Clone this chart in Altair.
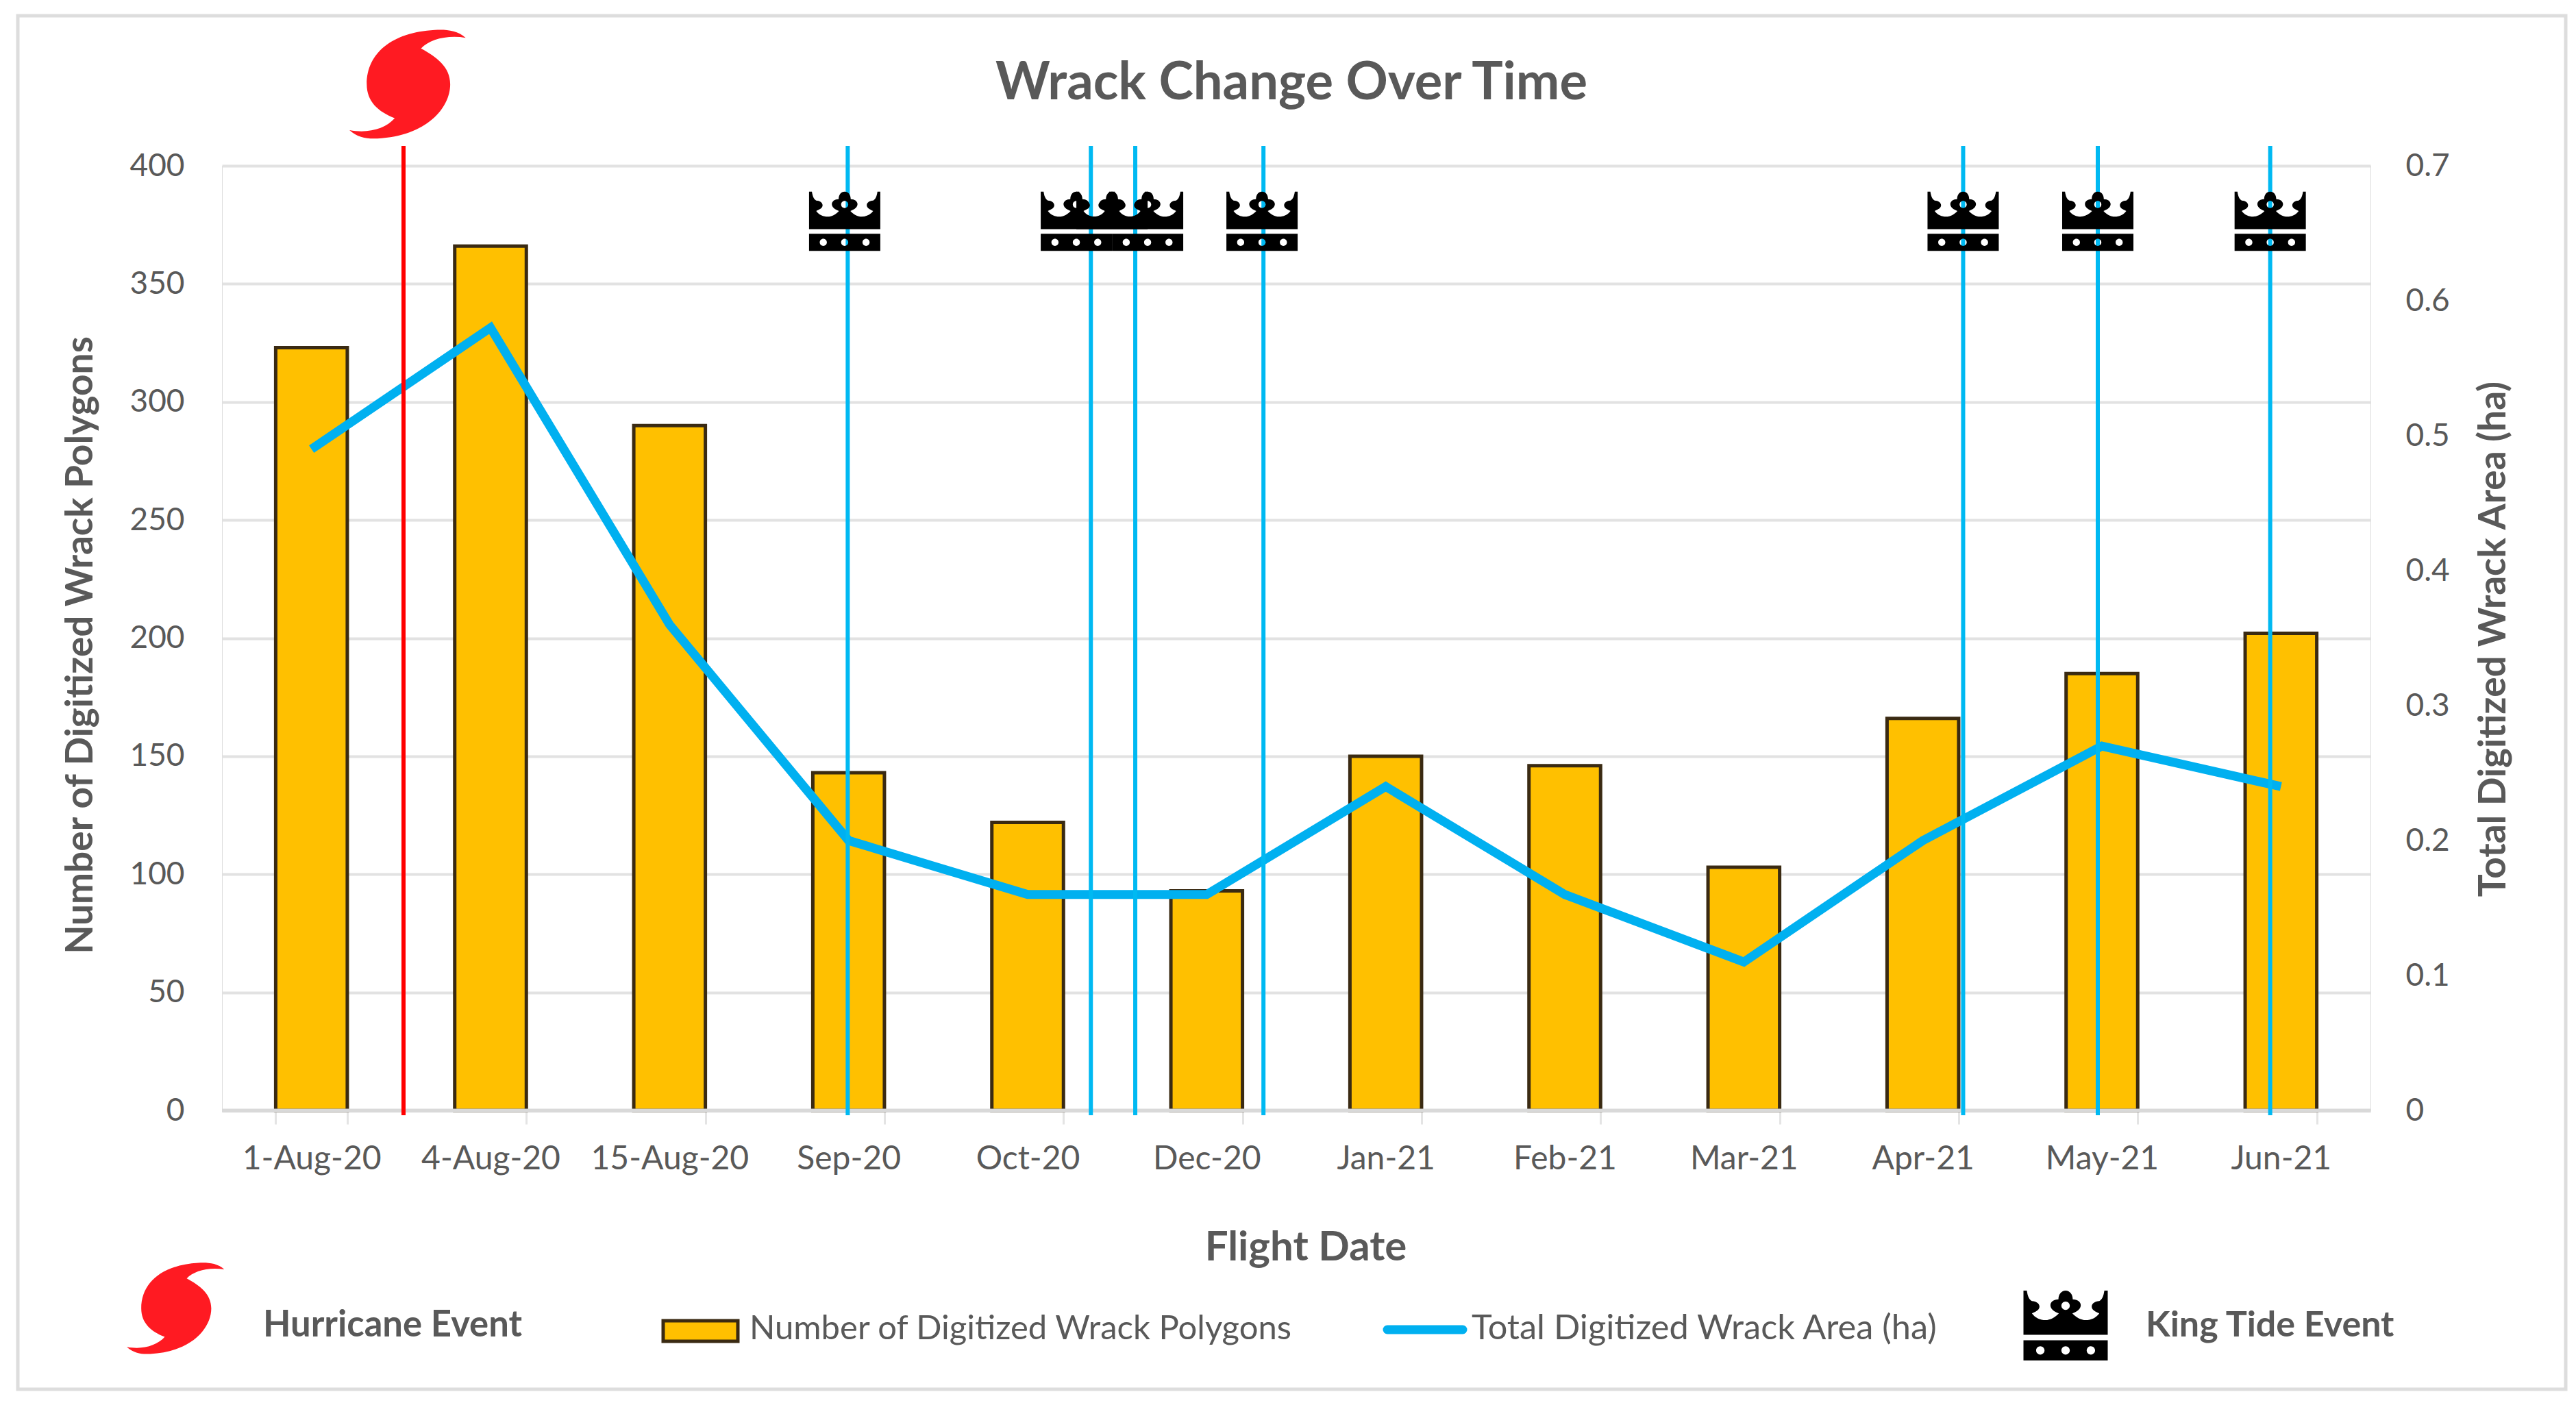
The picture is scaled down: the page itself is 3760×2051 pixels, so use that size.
import altair as alt
import pandas as pd

categories = ["1-Aug-20", "4-Aug-20", "15-Aug-20", "Sep-20", "Oct-20", "Dec-20",
              "Jan-21", "Feb-21", "Mar-21", "Apr-21", "May-21", "Jun-21"]
polygons = [323, 366, 290, 143, 122, 93, 150, 146, 103, 166, 185, 202]
area_ha = [0.49, 0.58, 0.36, 0.20, 0.16, 0.16, 0.24, 0.16, 0.11, 0.20, 0.27, 0.24]
# event positions, in units of category slots from the left of the axis
king_tide_positions = [3.495, 4.853, 5.101, 5.817, 9.725, 10.477, 11.44]
crown_positions = [3.478, 4.772, 5.170, 5.809, 9.725, 10.477, 11.44]
crown_joined_positions = [4.971]
hurricane_positions = [1.014]
hurricane_icon_positions = [1.045]

LEFT, TOP, W, H = 324, 242, 3136, 1379
FONT = "Lato"
GREY = "#595959"
GOLD = "#FFC000"
BROWN = "#3A2A12"
BLUE = "#00B0F0"
RED = "#FF0000"


def px(v):
    return v - LEFT


def py(v):
    return v - TOP


def hole(cx, cy, r=0.1):
    k = r * 0.55
    return (
        f"M{cx - r},{cy} C{cx - r},{cy + k} {cx - k},{cy + r} {cx},{cy + r} "
        f"C{cx + k},{cy + r} {cx + r},{cy + k} {cx + r},{cy} "
        f"C{cx + r},{cy - k} {cx + k},{cy - r} {cx},{cy - r} "
        f"C{cx - k},{cy - r} {cx - r},{cy - k} {cx - r},{cy} Z "
    )


CROWN_BODY = (
    "M-1,0.22 L-1,-0.83 L-0.92,-0.83 "
    "C-0.9,-0.7 -0.87,-0.62 -0.8,-0.58 C-0.7,-0.58 -0.62,-0.52 -0.62,-0.45 "
    "C-0.62,-0.37 -0.7,-0.33 -0.8,-0.29 C-0.72,-0.18 -0.6,-0.13 -0.48,-0.13 "
    "C-0.36,-0.13 -0.24,-0.2 -0.16,-0.29 C-0.28,-0.33 -0.36,-0.4 -0.36,-0.48 "
    "C-0.36,-0.56 -0.28,-0.62 -0.17,-0.62 C-0.17,-0.74 -0.1,-0.83 0,-0.83 "
    "C0.1,-0.83 0.17,-0.74 0.17,-0.62 C0.28,-0.62 0.36,-0.56 0.36,-0.48 "
    "C0.36,-0.4 0.28,-0.33 0.16,-0.29 C0.24,-0.2 0.36,-0.13 0.48,-0.13 "
    "C0.6,-0.13 0.72,-0.18 0.8,-0.29 C0.7,-0.33 0.62,-0.37 0.62,-0.45 "
    "C0.62,-0.52 0.7,-0.58 0.8,-0.58 C0.87,-0.62 0.9,-0.7 0.92,-0.83 "
    "L1,-0.83 L1,0.22 Z "
)
CROWN = (
    CROWN_BODY
    + "M-1,0.35 L1,0.35 L1,0.83 L-1,0.83 Z "
    + hole(0, -0.47)
    + hole(-0.6, 0.59)
    + hole(0, 0.59)
    + hole(0.6, 0.59)
)
HURRICANE = (
    "M0.95,-0.78 C0.8,-0.92 0.57,-0.92 0.43,-0.91 C-0.29,-0.87 -0.71,-0.52 -0.71,0 "
    "C-0.71,0.29 -0.52,0.46 -0.24,0.57 C-0.4,0.75 -0.69,0.83 -1,0.77 "
    "C-0.86,0.9 -0.69,0.92 -0.53,0.91 C0.29,0.87 0.69,0.4 0.69,0 "
    "C0.69,-0.29 0.46,-0.46 0.2,-0.6 C0.34,-0.75 0.63,-0.83 0.95,-0.78 Z"
)

df = pd.DataFrame({"date": categories, "polygons": polygons, "area": area_ha})
x_band = alt.Scale(domain=categories, paddingInner=0.6, paddingOuter=0.3)
y_left = alt.Scale(domain=[0, 400], nice=False)
y_right = alt.Scale(domain=[0, 0.7], nice=False)
x_slots = alt.Scale(domain=[0, 12], nice=False, zero=False)

bars = alt.Chart(df).mark_bar(color=GOLD, stroke=BROWN, strokeWidth=5).encode(
    x=alt.X("date:N", scale=x_band, sort=categories, title=None, axis=alt.Axis(
        labelFont=FONT, labelFontSize=48, labelColor=GREY, labelAngle=0, labelPadding=27,
        labelLimit=400, tickColor="#E4E4E4", tickSize=20, tickWidth=3, tickBand="extent",
        domainColor="#D9D9D9", domainWidth=5, grid=False, labelOverlap=False)),
    y=alt.Y("polygons:Q", scale=y_left, title=None, axis=alt.Axis(
        values=[0, 50, 100, 150, 200, 250, 300, 350, 400], labelFont=FONT, labelFontSize=46,
        labelColor=GREY, labelPadding=55, ticks=False, domain=False,
        gridColor="#E2E2E2", gridWidth=4)),
)

baseline = alt.Chart(pd.DataFrame({"k": [1]})).mark_rule(color="#D9D9D9", strokeWidth=5).encode(
    x=alt.value(0), x2=alt.value(W), y=alt.value(H)
)

line = alt.Chart(df).mark_line(color=BLUE, strokeWidth=13).encode(
    x=alt.X("date:N", scale=x_band, sort=categories, axis=None),
    y=alt.Y("area:Q", scale=y_right, title=None, axis=alt.Axis(
        orient="right", values=[0, 0.1, 0.2, 0.3, 0.4, 0.5, 0.6, 0.7],
        format="~g", labelFont=FONT, labelFontSize=46, labelColor=GREY, labelPadding=51,
        ticks=False, domain=False, grid=False)),
)


def rules(positions, color, name):
    data = pd.DataFrame({name: positions, "top": [408.4] * len(positions), "bot": [-2] * len(positions)})
    return alt.Chart(data).mark_rule(color=color, strokeWidth=6).encode(
        x=alt.X(f"{name}:Q", scale=x_slots, axis=None),
        y=alt.Y("top:Q", scale=y_left, axis=None),
        y2="bot:Q",
    )


def icons_on_axis(positions, path, color, size, y_page):
    data = pd.DataFrame({"pos": positions})
    return alt.Chart(data).mark_point(
        shape=path, filled=True, fill=color, stroke=None, size=size, opacity=1
    ).encode(
        x=alt.X("pos:Q", scale=x_slots, axis=None),
        y=alt.value(py(y_page)),
    )


def label(text, x, y, size, weight="normal", align="left", angle=0, color=GREY):
    return alt.Chart(pd.DataFrame({"t": [text]})).mark_text(
        font=FONT, fontSize=size, fontWeight=weight, align=align, baseline="middle",
        angle=angle, color=color
    ).encode(text="t:N", x=alt.value(px(x)), y=alt.value(py(y)))


def icon(path, color, size, x, y):
    return alt.Chart(pd.DataFrame({"k": [1]})).mark_point(
        shape=path, filled=True, fill=color, stroke=None, size=size, opacity=1
    ).encode(x=alt.value(px(x)), y=alt.value(py(y)))


frame = alt.Chart(pd.DataFrame({"k": [1]})).mark_rect(
    fillOpacity=0, stroke="#DDDDDD", strokeWidth=5
).encode(x=alt.value(px(26)), x2=alt.value(px(3745)), y=alt.value(py(23)), y2=alt.value(py(2028)))

swatch = alt.Chart(pd.DataFrame({"k": [1]})).mark_rect(
    fill=GOLD, stroke=BROWN, strokeWidth=5
).encode(x=alt.value(px(968)), x2=alt.value(px(1077)), y=alt.value(py(1928)), y2=alt.value(py(1958)))
line_swatch = alt.Chart(pd.DataFrame({"k": [1]})).mark_rule(
    color=BLUE, strokeWidth=13, strokeCap="round"
).encode(x=alt.value(px(2025)), x2=alt.value(px(2135)), y=alt.value(py(1941)))

chart = alt.layer(
    frame,
    bars,
    baseline,
    line,
    rules(hurricane_positions, RED, "hurricane"),
    rules(king_tide_positions, "#00B9F2", "tide"),
    icons_on_axis(crown_joined_positions, CROWN_BODY, "black", 10816, 323),
    icons_on_axis(crown_positions, CROWN, "black", 10816, 323),
    icons_on_axis(hurricane_icon_positions, HURRICANE, "#FF1A22", 30276, 123),
    label("Wrack Change Over Time", 1885, 122, 76, "bold", "center"),
    label("Number of Digitized Wrack Polygons", 118, 942, 55, "bold", "center", 270),
    label("Total Digitized Wrack Area (ha)", 3640, 933, 55, "bold", "center", 270),
    label("Flight Date", 1906, 1822, 60, "bold", "center"),
    icon(HURRICANE, "#FF1A22", 21316, 258, 1910),
    label("Hurricane Event", 384, 1935, 52.6, "bold"),
    swatch,
    label("Number of Digitized Wrack Polygons", 1094, 1940, 49),
    line_swatch,
    label("Total Digitized Wrack Area (ha)", 2148, 1940, 50.5),
    icon(CROWN, "black", 15129, 3015, 1935),
    label("King Tide Event", 3132, 1935, 52, "bold"),
).resolve_scale(x="independent", y="independent").properties(
    width=W, height=H,
    padding={"left": 316, "top": 234, "right": 290, "bottom": 410},
    autosize=alt.AutoSizeParams(type="none"),
).configure_view(stroke=None).configure(background="white")

chart.save("out.html", embed_options={"renderer": "svg", "actions": False})
